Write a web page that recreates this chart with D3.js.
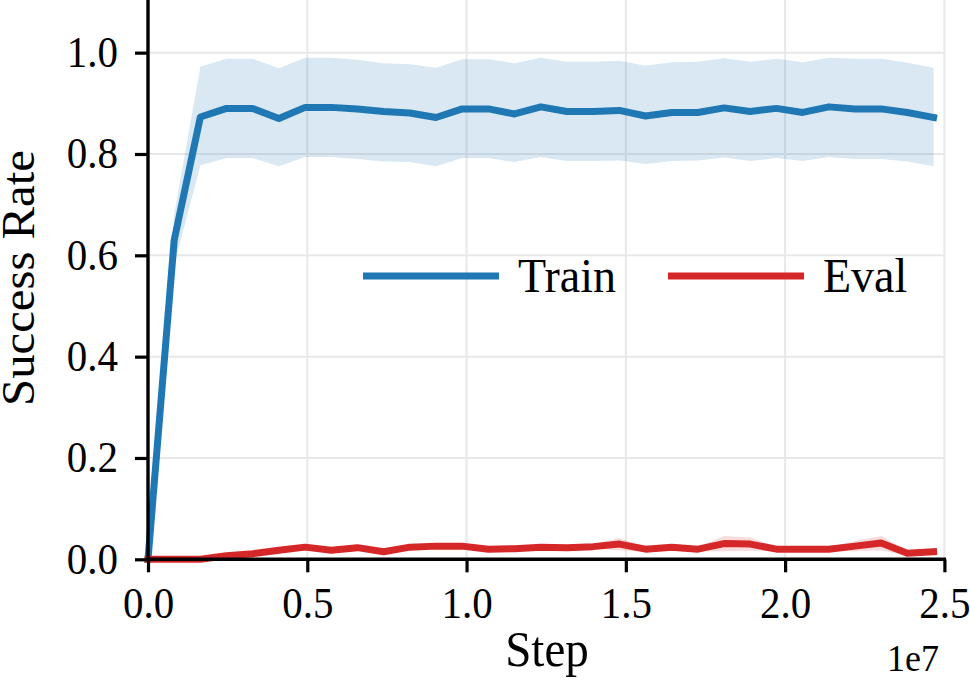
<!DOCTYPE html>
<meta charset="utf-8">
<style>
  body { margin: 0; background: #fff; }
  text { font-family: 'Liberation Serif', 'Times New Roman', serif; fill: #000; }
</style>
<body>
<svg width="970" height="692"></svg>
<script src="https://cdn.jsdelivr.net/npm/d3@7"></script>
<script>

// env steps for each logged point
var steps = [0, 822000, 1644000, 2466000, 3288000, 4110000, 4932000, 5754000, 6576000, 7398000,
  8220000, 9042000, 9864000, 10686000, 11508000, 12330000, 13152000, 13974000, 14796000, 15618000,
  16440000, 17262000, 18084000, 18906000, 19728000, 20550000, 21372000, 22194000, 23016000, 23838000, 24660000];

var trainMean = [0, 0.63, 0.873, 0.890, 0.890, 0.870, 0.892, 0.892, 0.889, 0.884, 0.881, 0.872, 0.889, 0.889, 0.879, 0.893,
  0.884, 0.884, 0.886, 0.875, 0.882, 0.882, 0.891, 0.884, 0.890, 0.882, 0.893, 0.889, 0.889, 0.882, 0.872];
var trainHi = [0, 0.68, 0.972, 0.988, 0.988, 0.969, 0.990, 0.990, 0.986, 0.979, 0.977, 0.970, 0.987, 0.987, 0.979, 0.990,
  0.982, 0.982, 0.984, 0.974, 0.981, 0.982, 0.989, 0.982, 0.988, 0.981, 0.990, 0.988, 0.988, 0.980, 0.970];
var trainLo = [0, 0.58, 0.778, 0.792, 0.792, 0.776, 0.794, 0.794, 0.790, 0.785, 0.784, 0.776, 0.792, 0.792, 0.784, 0.794,
  0.786, 0.786, 0.787, 0.780, 0.786, 0.787, 0.793, 0.786, 0.792, 0.786, 0.794, 0.790, 0.790, 0.785, 0.776];

var evalMean = [0, 0, 0, 0.007, 0.011, 0.018, 0.024, 0.018, 0.023, 0.015, 0.024, 0.026, 0.026, 0.020, 0.021, 0.024,
  0.023, 0.025, 0.030, 0.020, 0.024, 0.020, 0.031, 0.030, 0.020, 0.020, 0.020, 0.026, 0.032, 0.012, 0.015];
var evalHi = [0, 0, 0, 0.011, 0.015, 0.022, 0.028, 0.022, 0.027, 0.019, 0.028, 0.030, 0.030, 0.024, 0.025, 0.028,
  0.027, 0.029, 0.042, 0.025, 0.028, 0.024, 0.046, 0.043, 0.024, 0.024, 0.024, 0.036, 0.046, 0.017, 0.019];
var evalLo = [0, 0, 0, 0.003, 0.007, 0.014, 0.020, 0.014, 0.019, 0.011, 0.020, 0.022, 0.022, 0.016, 0.017, 0.020,
  0.019, 0.021, 0.018, 0.015, 0.020, 0.016, 0.016, 0.017, 0.016, 0.016, 0.016, 0.016, 0.018, 0.007, 0.011];

var xTicks = [0, 5e6, 1e7, 1.5e7, 2e7, 2.5e7];
var yTicks = [0, 0.2, 0.4, 0.6, 0.8, 1.0];

var svg = d3.select("svg");

var x = d3.scaleLinear().domain([0, 2.5e7]).range([148, 944.4]);
var y = d3.scaleLinear().domain([0, 1.1]).range([559.3, 2]);

var blue = "#1f77b4", red = "#d62728";
var k = 1.06; // figure is a little taller than wide, glyphs too

// grid
var grid = svg.append("g").style("stroke", "#e8e8e8").style("stroke-width", "2px");
grid.selectAll(".vg").data(xTicks).enter().append("line")
    .attr("x1", function(d) { return x(d); }).attr("x2", function(d) { return x(d); })
    .attr("y1", 0).attr("y2", y(0));
grid.selectAll(".hg").data(yTicks).enter().append("line")
    .attr("y1", function(d) { return y(d); }).attr("y2", function(d) { return y(d); })
    .attr("x1", x(0)).attr("x2", x(2.5e7));

function series(mean, lo, hi, color) {
  var pts = steps.map(function(s, i) { return {x: s, m: mean[i], lo: lo[i], hi: hi[i]}; });
  svg.append("path").datum(pts)
      .attr("fill", color).attr("fill-opacity", 0.17)
      .attr("d", d3.area()
        .x(function(d) { return x(d.x); })
        .y0(function(d) { return y(d.lo); })
        .y1(function(d) { return y(d.hi); }));
  return pts;
}

var trainPts = series(trainMean, trainLo, trainHi, blue);
var evalPts = series(evalMean, evalLo, evalHi, red);

var line = d3.line()
    .x(function(d) { return x(d.x); })
    .y(function(d) { return y(d.m); });

svg.append("path").datum(trainPts)
    .attr("fill", "none").attr("stroke", blue).attr("stroke-width", 7)
    .attr("stroke-linejoin", "round").attr("stroke-linecap", "square")
    .attr("d", line);
svg.append("path").datum(evalPts)
    .attr("fill", "none").attr("stroke", red).attr("stroke-width", 7)
    .attr("stroke-linejoin", "round").attr("stroke-linecap", "square")
    .attr("d", line);

// axes
var xAxis = svg.append("g")
    .attr("transform", "translate(0," + y(0) + ")")
    .call(d3.axisBottom(x).tickValues(xTicks).tickSize(13).tickPadding(13)
      .tickFormat(function(d) { return (d / 1e7).toFixed(1); }));
var yAxis = svg.append("g")
    .attr("transform", "translate(" + x(0) + ",0)")
    .call(d3.axisLeft(y).tickValues(yTicks).tickSize(13).tickPadding(17)
      .tickFormat(d3.format(".1f")));

[xAxis, yAxis].forEach(function(a) {
  a.selectAll("line").attr("stroke", "#000").attr("stroke-width", 3.2);
  a.select(".domain").remove();
  a.selectAll("text").style("font-size", "41px").attr("fill", "#000")
      .attr("transform", "scale(1," + k + ")");
});
xAxis.selectAll("text").attr("dy", "0.71em");

svg.append("line").attr("x1", x(0)).attr("x2", x(0)).attr("y1", 0).attr("y2", y(0) + 1.6)
    .attr("stroke", "#000").attr("stroke-width", 3.4);
svg.append("line").attr("x1", x(0) - 1.6).attr("x2", x(2.5e7) + 1.6).attr("y1", y(0)).attr("y2", y(0))
    .attr("stroke", "#000").attr("stroke-width", 3.4);

// labels
svg.append("text").attr("transform", "translate(547,666) scale(1," + k + ")").attr("text-anchor", "middle")
    .style("font-size", "47px").text("Step");
svg.append("text").attr("transform", "translate(939,671) scale(1," + k + ")").attr("text-anchor", "end")
    .style("font-size", "36px").text("1e7");
svg.append("text").attr("transform", "translate(34,278) rotate(-90) scale(" + k + ",1)").attr("text-anchor", "middle")
    .style("font-size", "46px").text("Success Rate");

// legend
var legend = [{name: "Train", color: blue, x0: 363}, {name: "Eval", color: red, x0: 668}];
var lg = svg.append("g").selectAll("g").data(legend).enter().append("g");
lg.append("line")
    .attr("x1", function(d) { return d.x0; }).attr("x2", function(d) { return d.x0 + 136; })
    .attr("y1", 276).attr("y2", 276)
    .attr("stroke", function(d) { return d.color; }).attr("stroke-width", 7);
lg.append("text")
    .attr("transform", function(d) { return "translate(" + (d.x0 + 155) + ",292) scale(1," + k + ")"; })
    .style("font-size", "46px")
    .text(function(d) { return d.name; });

</script>
</body>
